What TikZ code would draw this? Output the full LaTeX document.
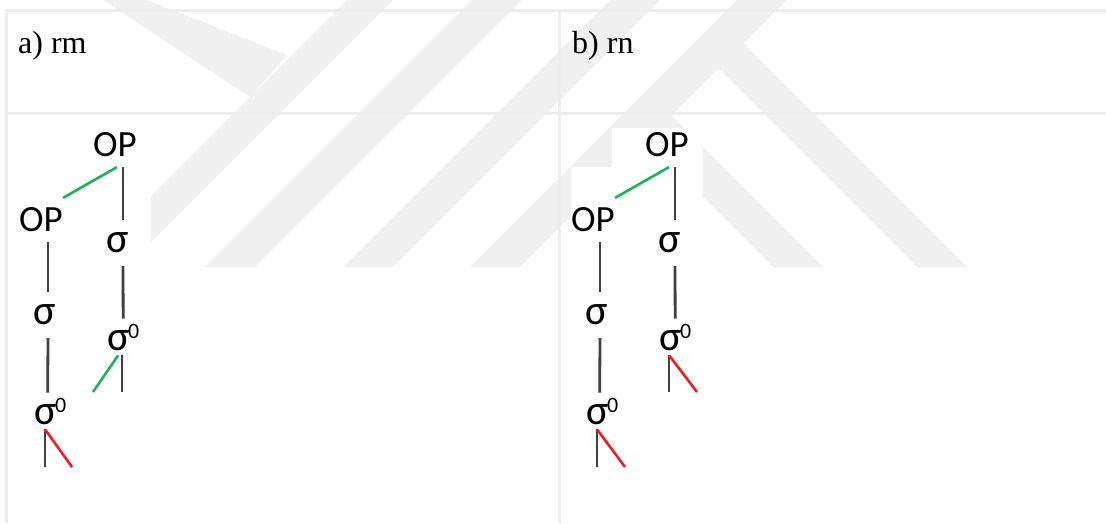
\documentclass[tikz,border=0pt]{standalone}
\usepackage{fontspec}
\setmainfont{Liberation Serif}
\newfontfamily\treefont{Carlito}
\usetikzlibrary{positioning}

\definecolor{markgray}{HTML}{F0F0F0}
\definecolor{rulegray}{HTML}{EDEDED}
\definecolor{stemgray}{HTML}{404040}
\definecolor{linkgreen}{HTML}{22B05A}
\definecolor{linkred}{HTML}{EE1C2A}

\tikzset{
  caption/.style={anchor=base west, inner sep=0pt, font=\fontsize{32}{32}\selectfont},
  opnode/.style={inner sep=0pt, outer ysep=10pt, font=\treefont\fontsize{37}{37}\selectfont},
  sylnode/.style={inner sep=0pt, outer ysep=13pt, font=\treefont\fontsize{42}{42}\selectfont},
  zeronode/.style={anchor=base west, inner sep=0pt, outer ysep=5pt, font=\treefont\fontsize{42}{42}\selectfont},
  stemline/.style={line width=2.8pt, color=stemgray},
  greenlink/.style={line width=2.6pt, color=linkgreen},
  redlink/.style={line width=2.6pt, color=linkred},
  rule/.style={line width=3pt, color=rulegray}
}

\newcommand{\sylzero}{σ\kern-1.5pt\raisebox{12pt}{\fontsize{22}{22}\selectfont 0}}

\begin{document}
\begin{tikzpicture}[x=1pt, y=-1pt]
  \useasboundingbox (0,0) rectangle (1106,523);
  \fill[white] (0,0) rectangle (1106,523);

  % watermark in the background
  \fill[markgray] (103,0) -- (147,0) -- (287,55) -- (250,97) -- cycle;
  \fill[markgray] (347,0) -- (393,0) -- (126,267) -- (80,267) -- cycle;
  \fill[markgray] (472,0) -- (522,0) -- (255,267) -- (205,267) -- cycle;
  \fill[markgray] (610,0) -- (660,0) -- (393,267) -- (343,267) -- cycle;
  \fill[markgray] (737,0) -- (787,0) -- (520,267) -- (470,267) -- cycle;
  \fill[markgray] (718.5,68.5) -- (743.5,43.5) -- (967,267) -- (917,267) -- cycle;
  \fill[markgray] (634,128) -- (659,103) -- (823,267) -- (773,267) -- cycle;

  % white ground of the two trees
  \fill[white] (9,120) rectangle (151,523);
  \fill[white] (612,128) rectangle (703,523);
  \fill[white] (571,167) rectangle (703,523);

  % table
  \draw[rule] (5,10) -- (1106,10);
  \draw[rule] (5,113) -- (1106,113);
  \draw[rule] (6.5,9) -- (6.5,523);
  \draw[rule] (559.5,9) -- (559.5,523);

  \node[caption] (capA) at (18,53) {a) rm};
  \node[caption] (capB) at (572,53) {b) rn};

  % tree a
  \node[opnode] (opA1) at (115,145) {OP};
  \node[opnode] (opA2) at (41,220) {OP};
  \node[sylnode] (sA1) at (118,243) {σ};
  \node[zeronode] (zA1) at (107,350) {\sylzero};
  \node[sylnode] (sA2) at (45,315) {σ};
  \node[zeronode] (zA2) at (34,424) {\sylzero};
  \coordinate (fA1) at (93,392);
  \coordinate (fA2) at (122,392);
  \coordinate (fA3) at (45,467);
  \coordinate (fA4) at (72,467);

  \draw[greenlink] ([xshift=2pt]opA1.south) -- (opA2.north east);
  \draw[stemline] ([xshift=8pt]opA1.south) -- ([xshift=5pt]sA1.north);
  \draw[stemline] ([xshift=5pt]sA1.south) -- (zA1.north);
  \draw[stemline] (zA1.south -| fA2) -- (fA2);
  \draw[greenlink] ([xshift=-5pt]zA1.south) -- (fA1);
  \draw[stemline] ([xshift=7pt]opA2.south) -- ([xshift=3pt]sA2.north);
  \draw[stemline] ([xshift=3pt]sA2.south) -- ([xshift=-2.5pt]zA2.north);
  \draw[stemline] (zA2.south -| fA3) -- (fA3);
  \draw[redlink] (zA2.south -| fA3) -- (fA4);

  % tree b
  \node[opnode] (opB1) at (667,145) {OP};
  \node[opnode] (opB2) at (593,220) {OP};
  \node[sylnode] (sB1) at (670,243) {σ};
  \node[zeronode] (zB1) at (659,350) {\sylzero};
  \node[sylnode] (sB2) at (597,315) {σ};
  \node[zeronode] (zB2) at (586,424) {\sylzero};
  \coordinate (fB1) at (669,392);
  \coordinate (fB2) at (697,392);
  \coordinate (fB3) at (597,467);
  \coordinate (fB4) at (625,467);

  \draw[greenlink] ([xshift=2pt]opB1.south) -- (opB2.north east);
  \draw[stemline] ([xshift=8pt]opB1.south) -- ([xshift=5pt]sB1.north);
  \draw[stemline] ([xshift=5pt]sB1.south) -- (zB1.north);
  \draw[stemline] (zB1.south -| fB1) -- (fB1);
  \draw[redlink] (zB1.south -| fB1) -- (fB2);
  \draw[stemline] ([xshift=7pt]opB2.south) -- ([xshift=3pt]sB2.north);
  \draw[stemline] ([xshift=3pt]sB2.south) -- ([xshift=-2.5pt]zB2.north);
  \draw[stemline] (zB2.south -| fB3) -- (fB3);
  \draw[redlink] (zB2.south -| fB3) -- (fB4);
\end{tikzpicture}
\end{document}
